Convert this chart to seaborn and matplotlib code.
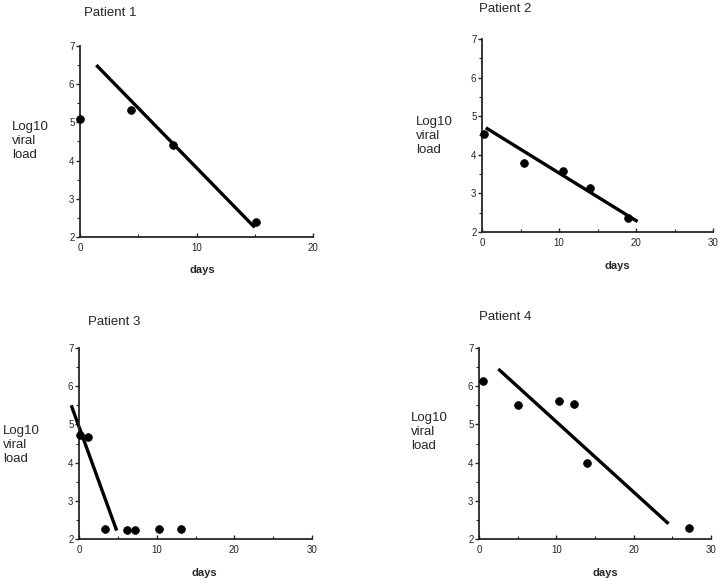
import matplotlib
matplotlib.use('Agg')
import matplotlib.pyplot as plt
import seaborn as sns
from matplotlib.ticker import MultipleLocator

sns.set_style('ticks')
plt.rcParams['font.family'] = ['Liberation Sans', 'DejaVu Sans']

# measured values per patient (days, log10 viral load)
p1_days = [0, 4.4, 8, 15.1]
p1_load = [5.1, 5.33, 4.4, 2.38]
p1_fit_days = [1.4, 15]
p1_fit_load = [6.5, 2.25]

p2_days = [0.2, 5.5, 10.5, 14, 19]
p2_load = [4.55, 3.8, 3.57, 3.15, 2.37]
p2_fit_days = [0.5, 20.2]
p2_fit_load = [4.7, 2.27]

p3_days = [0.1, 1.1, 3.3, 6.2, 7.2, 10.3, 13.1]
p3_load = [4.73, 4.68, 2.27, 2.23, 2.23, 2.26, 2.26]
p3_fit_days = [-1.0, 4.85]
p3_fit_load = [5.5, 2.22]

p4_days = [0.5, 5, 10.3, 12.3, 14, 27.2]
p4_load = [6.13, 5.5, 5.6, 5.53, 4.0, 2.3]
p4_fit_days = [2.5, 24.5]
p4_fit_load = [6.45, 2.4]

titles = ['Patient 1', 'Patient 2', 'Patient 3', 'Patient 4']
x_max = [20, 30, 30, 30]

W, H = 720, 580
fig = plt.figure(figsize=(7.2, 5.8), dpi=100)

# pixel boxes (left, right, top, bottom) of each plot area
boxes = [(80, 313, 46, 237), (482, 713, 39, 232), (79, 312, 348, 539), (479, 711, 348, 539)]
title_pos = [(84, 13), (479, 9), (88, 322), (479, 317)]
ylab_pos = [(12, 141), (416, 136), (3, 445), (411, 432)]
xlab_pos = [(202, 270), (617, 266), (204, 573), (605, 573)]

data = [
    (p1_days, p1_load, p1_fit_days, p1_fit_load),
    (p2_days, p2_load, p2_fit_days, p2_fit_load),
    (p3_days, p3_load, p3_fit_days, p3_fit_load),
    (p4_days, p4_load, p4_fit_days, p4_fit_load),
]

for i, (days, load, fd, fl) in enumerate(data):
    l, r, t, b = boxes[i]
    ax = fig.add_axes([l / W, 1 - b / H, (r - l) / W, (b - t) / H])
    sns.lineplot(x=fd, y=fl, ax=ax, color='black', linewidth=2.4, clip_on=False,
                 solid_capstyle='butt')
    sns.scatterplot(x=days, y=load, ax=ax, color='black', s=32, edgecolor='black',
                    clip_on=False, zorder=3)
    ax.set_xlim(0, x_max[i])
    ax.set_ylim(2, 7)
    ax.set_xticks(range(0, x_max[i] + 1, 10))
    ax.set_yticks(range(2, 8))
    ax.xaxis.set_minor_locator(MultipleLocator(5))
    ax.yaxis.set_minor_locator(MultipleLocator(0.5))
    ax.tick_params(axis='y', which='major', direction='out', length=3, width=1, labelsize=7, pad=1)
    ax.tick_params(axis='y', which='minor', direction='out', length=2, width=0.8)
    ax.tick_params(axis='x', which='major', direction='in', length=3, width=1, labelsize=7, pad=4)
    ax.tick_params(axis='x', which='minor', direction='in', length=2, width=0.8)
    sns.despine(ax=ax)
    for s in ['left', 'bottom']:
        ax.spines[s].set_linewidth(1.3)
    ax.set_xlabel('')
    ax.set_ylabel('')

    tx, ty = title_pos[i]
    fig.text(tx / W, 1 - ty / H, titles[i], fontsize=9.5, ha='left', va='center')
    yx, yy = ylab_pos[i]
    fig.text(yx / W, 1 - yy / H, 'Log10\nviral\nload', fontsize=9.5, ha='left', va='center',
             linespacing=1.2)
    xx, xy = xlab_pos[i]
    fig.text(xx / W, 1 - xy / H, 'days', fontsize=8, fontweight='bold', ha='center', va='center')

fig.savefig('out.png', dpi=100, facecolor='white')
